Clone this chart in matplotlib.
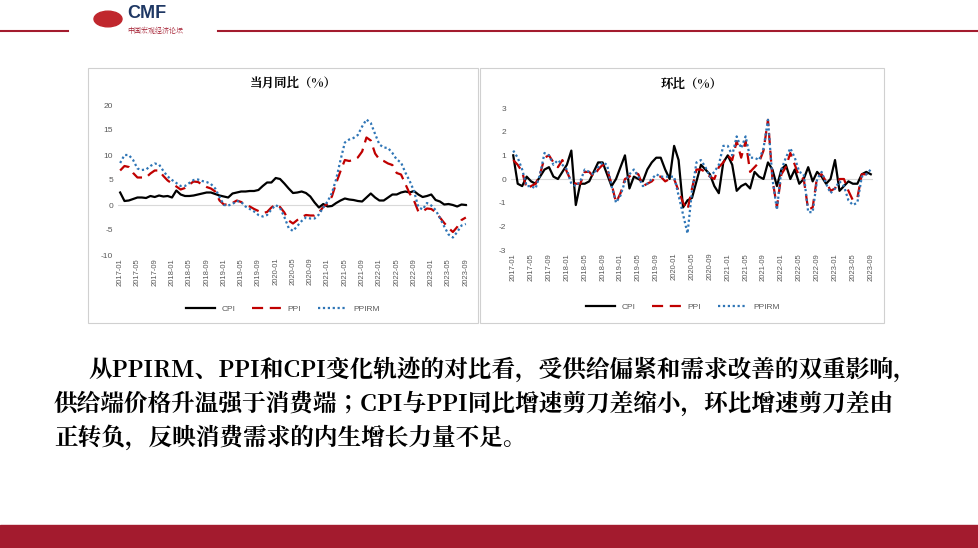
import glob
import numpy as np
import matplotlib.pyplot as plt
from matplotlib import font_manager as fm
from matplotlib.patches import Rectangle, Circle

# locate a CJK font file and register it
cjk = 'Noto Sans CJK SC'
paths = [p for p in fm.findSystemFonts() if 'CJK' in p or 'cjk' in p.lower()]
paths += glob.glob('/usr/share/fonts/**/*CJK*', recursive=True)
for p in paths:
    try:
        fm.fontManager.addfont(p)
    except Exception:
        pass
names = [f.name for f in fm.fontManager.ttflist if 'CJK' in f.name]
if names:
    cjk = 'Noto Sans CJK SC' if 'Noto Sans CJK SC' in names else names[0]
plt.rcParams['font.family'] = cjk
plt.rcParams['axes.unicode_minus'] = False
SANS = 'Liberation Sans'

months = [f'{y}-{m:02d}' for y in range(2017, 2024) for m in range(1, 13)][:81]

# 当月同比
cpi_yoy = [2.5,0.8,0.9,1.2,1.5,1.5,1.4,1.8,1.6,1.9,1.7,1.8,
           1.5,2.9,2.1,1.8,1.8,1.9,2.1,2.3,2.5,2.5,2.2,1.9,
           1.7,1.5,2.3,2.5,2.7,2.7,2.8,2.8,3.0,3.8,4.5,4.5,
           5.4,5.2,4.3,3.3,2.4,2.5,2.7,2.4,1.7,0.5,-0.5,0.2,
           -0.3,-0.2,0.4,0.9,1.3,1.1,1.0,0.8,0.7,1.5,2.3,1.5,
           0.9,0.9,1.5,2.1,2.1,2.5,2.7,2.5,2.8,2.1,1.6,1.8,
           2.1,1.0,0.7,0.1,0.2,0.0,-0.3,0.1,0.0]
ppi_yoy = [6.9,7.8,7.6,6.4,5.5,5.5,5.5,6.3,6.9,6.9,5.8,4.9,
           4.3,3.7,3.1,3.4,4.1,4.7,4.6,4.1,3.6,3.3,2.7,0.9,
           0.1,0.1,0.4,0.9,0.6,0.0,-0.3,-0.8,-1.2,-1.6,-1.4,-0.5,
           0.1,-0.4,-1.5,-3.1,-3.7,-3.0,-2.4,-2.0,-2.1,-2.1,-1.5,-0.4,
           0.3,1.7,4.4,6.8,9.0,8.8,9.0,9.5,10.7,13.5,12.9,10.3,
           9.1,8.8,8.3,8.0,6.4,6.1,4.2,2.3,0.9,-1.3,-1.3,-0.7,
           -0.8,-1.4,-2.5,-3.6,-4.6,-5.4,-4.4,-3.0,-2.5]
ppirm_yoy = [8.4,10.0,10.0,9.0,7.3,7.0,7.1,7.8,8.3,8.1,6.8,5.7,
             5.0,4.4,3.8,3.8,4.4,5.0,5.1,4.8,4.6,4.2,3.3,1.6,
             0.0,-0.1,0.2,0.8,0.6,-0.3,-0.8,-1.3,-2.0,-2.3,-2.0,-0.9,
             0.0,-0.6,-2.4,-4.6,-5.2,-4.2,-3.2,-2.5,-2.7,-2.7,-1.9,-0.5,
             0.7,2.4,5.2,9.0,12.5,13.1,13.4,14.0,15.7,17.1,16.4,14.2,
             12.1,11.5,11.4,10.4,9.1,8.5,6.5,4.8,2.8,-0.4,-0.9,0.4,
             -0.1,-1.0,-2.6,-4.3,-5.9,-6.5,-5.4,-4.1,-3.8]

# 环比
cpi_mom = [1.0,-0.2,-0.3,0.1,-0.1,-0.2,0.1,0.4,0.5,0.1,0.0,0.3,
           0.6,1.2,-1.1,-0.2,-0.2,-0.1,0.3,0.7,0.7,0.2,-0.3,0.0,
           0.5,1.0,-0.4,0.1,0.0,-0.1,0.4,0.7,0.9,0.9,0.4,0.0,
           1.4,0.8,-1.2,-0.9,-0.8,-0.1,0.6,0.4,0.2,-0.3,-0.6,0.7,
           1.0,0.6,-0.5,-0.3,-0.2,-0.4,0.3,0.1,0.0,0.7,0.4,-0.3,
           0.4,0.6,0.0,0.4,-0.2,0.0,0.5,-0.1,0.3,0.1,-0.2,0.0,
           0.8,-0.5,-0.3,-0.1,-0.2,-0.2,0.2,0.3,0.2]
ppi_mom = [0.8,0.6,0.3,-0.4,-0.3,-0.2,0.2,0.9,1.0,0.7,0.5,0.8,
           0.3,-0.1,-0.2,-0.2,0.3,0.3,0.1,0.4,0.6,0.4,-0.2,-1.0,
           -0.6,0.0,0.1,0.3,0.2,-0.3,-0.2,-0.1,0.1,0.1,-0.1,0.0,
           0.0,-0.5,-1.0,-1.3,-0.4,0.4,0.4,0.3,0.1,0.0,0.5,0.7,
           1.0,0.8,1.6,0.9,1.6,0.3,0.5,0.7,1.2,2.5,0.0,-1.2,
           0.2,0.5,1.1,0.6,0.1,0.0,-1.3,-1.2,0.1,0.2,-0.1,-0.5,
           -0.4,0.0,0.0,-0.5,-0.9,-0.8,0.2,0.2,0.4]
ppirm_mom = [1.2,0.9,0.4,-0.3,-0.3,-0.4,0.2,1.1,1.0,0.6,0.8,0.6,
             0.4,-0.2,-0.3,-0.1,0.4,0.3,0.2,0.5,0.7,0.6,-0.3,-1.0,
             -0.7,-0.1,0.2,0.4,0.1,-0.3,-0.2,0.0,0.2,0.1,0.1,0.1,
             0.1,-0.7,-1.5,-2.3,-0.5,0.7,0.8,0.5,0.1,0.3,0.6,1.4,
             1.4,1.0,1.8,1.3,1.8,0.9,0.9,0.8,1.3,2.5,0.0,-1.3,
             0.4,0.9,1.3,0.9,0.3,0.2,-1.4,-1.4,0.0,0.3,-0.2,-0.6,
             -0.4,-0.1,-0.3,-0.9,-1.1,-1.0,0.1,0.2,0.4]

RED = '#A31B2E'
fig = plt.figure(figsize=(9.79, 5.48), dpi=100)

# header / footer decoration
fig.add_artist(plt.Line2D([0, 68/979], [1-31/548]*2, color=RED, lw=1.5))
fig.add_artist(plt.Line2D([218/979, 1], [1-31/548]*2, color=RED, lw=1.5))
fig.add_artist(Rectangle((0, 0), 1, 23/548, color=RED, transform=fig.transFigure))
fig.add_artist(Circle((108/979, 1-19/548), 14/979, color='#C0272D', transform=fig.transFigure))
fig.text(127/979, 1-14/548, 'CMF', color='#1F3864', fontsize=13, fontweight='bold',
         va='center', family=SANS)
fig.text(127/979, 1-31/548, '中国宏观经济论坛', color=RED, fontsize=5, va='center')

# panel frames
for x0, x1 in [(88, 478), (480, 884)]:
    fig.add_artist(Rectangle((x0/979, 1-323/548), (x1-x0)/979, 255/548, fill=False,
                             ec='#D0D0D0', lw=0.8, transform=fig.transFigure))

x = np.arange(len(months))

def panel(rect, a, b, c, ylim, step, title, ty, lx, ly):
    ax = fig.add_axes(rect)
    ax.plot(x, a, color='black', lw=1.6, label='CPI')
    ax.plot(x, b, color='#C00000', lw=1.6, ls=(0, (5, 3)), label='PPI')
    ax.plot(x, c, color='#2E75B6', lw=1.6, ls=(0, (1, 1.2)), label='PPIRM')
    ax.set_ylim(*ylim)
    ax.set_yticks(np.arange(ylim[0], ylim[1] + 0.1, step))
    ax.set_xlim(-0.5, len(months) - 0.5)
    ax.set_xticks(x[::4])
    ax.set_xticklabels(months[::4], rotation=90, fontsize=5.5, color='#595959', family=SANS)
    for lab in ax.get_yticklabels():
        lab.set_family(SANS)
    ax.tick_params(axis='y', labelsize=6, colors='#595959', length=0)
    ax.tick_params(axis='x', length=0, pad=2)
    ax.axhline(0, color='#D9D9D9', lw=0.8, zorder=0)
    for s in ax.spines.values():
        s.set_visible(False)
    fig.text(rect[0] + rect[2]/2, ty, title, ha='center', va='center', fontsize=9, fontweight='bold')
    ax.legend(loc='center', bbox_to_anchor=(lx, ly), bbox_transform=fig.transFigure,
              ncol=3, frameon=False, handlelength=3.5, labelcolor='#595959',
              prop={'family': SANS, 'size': 6})
    return ax

panel([118/979, 1-255/548, 350/979, 150/548], cpi_yoy, ppi_yoy, ppirm_yoy,
      (-10, 20), 5, '当月同比（%）', 1-84/548, 283/979, 1-309/548)
panel([511/979, 1-250/548, 362/979, 142/548], cpi_mom, ppi_mom, ppirm_mom,
      (-3, 3), 1, '环比（%）', 1-85/548, 683/979, 1-307/548)

body = ['从PPIRM、PPI和CPI变化轨迹的对比看，受供给偏紧和需求改善的双重影响，',
        '供给端价格升温强于消费端；CPI与PPI同比增速剪刀差缩小，环比增速剪刀差由',
        '正转负，反映消费需求的内生增长力量不足。']
for i, (t, xx) in enumerate(zip(body, [88, 54, 54])):
    fig.text(xx/979, 1-(370 + 34*i)/548, t, fontsize=17, va='center', fontweight='bold')

fig.savefig('out.png', dpi=100, facecolor='white')
